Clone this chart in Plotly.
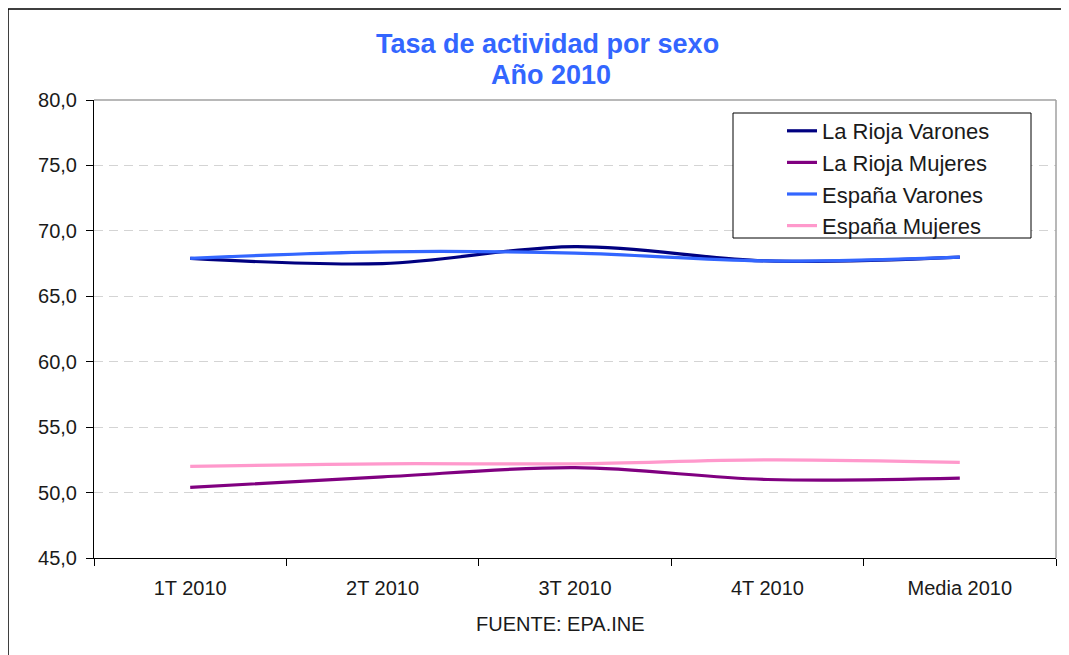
import plotly.graph_objects as go

categories = ["1T 2010", "2T 2010", "3T 2010", "4T 2010", "Media 2010"]
rioja_varones = [67.9, 67.5, 68.8, 67.7, 68.0]
rioja_mujeres = [50.4, 51.2, 51.9, 51.0, 51.1]
espana_varones = [67.9, 68.4, 68.3, 67.7, 68.0]
espana_mujeres = [52.0, 52.2, 52.2, 52.5, 52.3]
y_ticks = [45, 50, 55, 60, 65, 70, 75, 80]
y_ticktext = ["45,0", "50,0", "55,0", "60,0", "65,0", "70,0", "75,0", "80,0"]

series = [
    ("La Rioja Varones", rioja_varones, "#000080"),
    ("La Rioja Mujeres", rioja_mujeres, "#800080"),
    ("España Varones", espana_varones, "#3366FF"),
    ("España Mujeres", espana_mujeres, "#FF99CC"),
]

FONT = "Liberation Sans, Arial, sans-serif"
OFF = 8  # html body margin
W, H = 1069 - OFF, 655 - OFF
L, T = 94 - OFF, 100 - OFF
R = W - (1056 - OFF)
B = H - (558 - OFF)
pw, ph = W - L - R, H - T - B

def px_x(px):
    return (px - OFF - L) / pw

def px_y(py):
    return (H - B - (py - OFF)) / ph

fig = go.Figure()
for name, vals, color in series:
    fig.add_trace(go.Scatter(
        x=categories, y=vals, name=name, mode="lines",
        line=dict(color=color, width=3.2, shape="spline", smoothing=1),
    ))

title_font = dict(family=FONT, size=27, color="#3366FF")
fig.update_layout(
    width=W, height=H,
    margin=dict(l=L, r=R, t=T, b=B),
    paper_bgcolor="white", plot_bgcolor="white",
    font=dict(family=FONT, size=20, color="#1a1a1a"),
    showlegend=True,
    legend=dict(
        x=px_x(782), y=px_y(110), xanchor="left", yanchor="top",
        bgcolor="rgba(0,0,0,0)", borderwidth=0,
        font=dict(family=FONT, size=22, color="#1a1a1a"),
        tracegroupgap=0,
    ),
    xaxis=dict(
        type="category", range=[-0.5, 4.5],
        showline=True, linecolor="#000000", linewidth=1,
        ticks="outside", tickson="boundaries", ticklen=7, tickcolor="#000000",
        showgrid=False, zeroline=False, ticklabelstandoff=12,
        tickfont=dict(family=FONT, size=20, color="#1a1a1a"),
    ),
    yaxis=dict(
        range=[45, 80], tickvals=y_ticks, ticktext=y_ticktext,
        showline=True, linecolor="#000000", linewidth=1,
        ticks="outside", ticklen=7, tickcolor="#000000",
        showgrid=True, gridcolor="#D4D4D4", griddash="9px,6px", gridwidth=1,
        zeroline=False, ticklabelstandoff=5,
        tickfont=dict(family=FONT, size=20, color="#1a1a1a"),
    ),
    annotations=[
        dict(text="<b>Tasa de actividad por sexo</b>", xref="paper", yref="paper",
             x=px_x(547), y=px_y(44), xanchor="center", yanchor="middle",
             showarrow=False, font=title_font),
        dict(text="<b>Año 2010</b>", xref="paper", yref="paper",
             x=px_x(551), y=px_y(75), xanchor="center", yanchor="middle",
             showarrow=False, font=title_font),
        dict(text="FUENTE: EPA.INE", xref="paper", yref="paper",
             x=px_x(560), y=px_y(624), xanchor="center", yanchor="middle",
             showarrow=False, font=dict(family=FONT, size=20, color="#1a1a1a")),
    ],
    shapes=[
        dict(type="line", xref="paper", yref="paper", x0=0, x1=1, y0=1, y1=1,
             line=dict(color="#A0A0A0", width=1.5)),
        dict(type="line", xref="paper", yref="paper", x0=1, x1=1, y0=0, y1=1,
             line=dict(color="#A0A0A0", width=1.5)),
        dict(type="rect", xref="paper", yref="paper",
             x0=px_x(733), x1=px_x(1031), y0=px_y(113), y1=px_y(238),
             line=dict(color="#000000", width=1), fillcolor="white", layer="above"),
        dict(type="rect", xref="paper", yref="paper",
             x0=px_x(8), x1=px_x(1080), y0=px_y(9), y1=px_y(670),
             line=dict(color="#000000", width=1.5), fillcolor="rgba(0,0,0,0)", layer="below"),
    ],
)

fig.write_html("out.html")
